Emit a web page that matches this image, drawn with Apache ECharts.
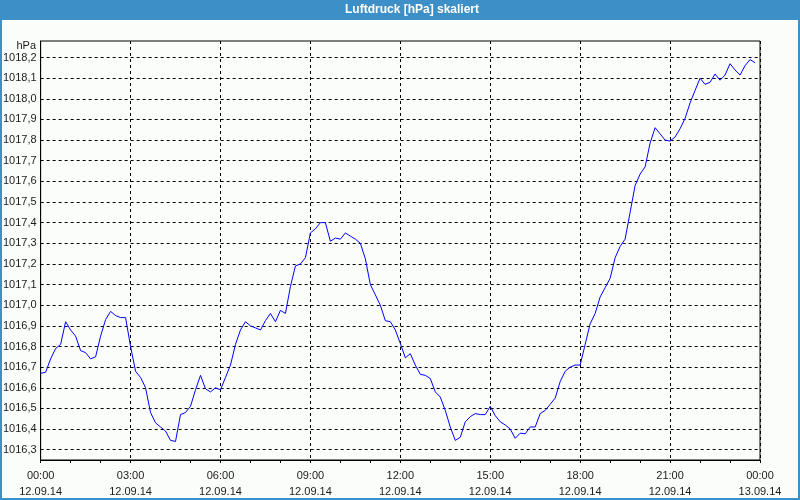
<!DOCTYPE html>
<html>
<head>
<meta charset="utf-8">
<script src="https://cdn.jsdelivr.net/npm/echarts@6/dist/echarts.min.js"></script>
<style>html,body{margin:0;padding:0;background:#fff}#c{width:800px;height:500px}</style>
</head>
<body>
<div id="c"></div>
<script>
// 10-minute samples from 12.09.14 00:00 to 23:50
const stepMinutes = 10;
const pressure = [
  1016.67, 1016.675, 1016.74, 1016.79, 1016.81, 1016.92, 1016.88, 1016.85, 1016.78, 1016.77,
  1016.74, 1016.75, 1016.85, 1016.93, 1016.97, 1016.95, 1016.94, 1016.94, 1016.80, 1016.68,
  1016.65, 1016.60, 1016.48, 1016.43, 1016.41, 1016.39, 1016.345, 1016.34, 1016.47, 1016.48,
  1016.51, 1016.59, 1016.66, 1016.595, 1016.58, 1016.60, 1016.59, 1016.65, 1016.71, 1016.81,
  1016.88, 1016.92, 1016.90, 1016.89, 1016.88, 1016.925, 1016.96, 1016.92, 1016.975, 1016.96,
  1017.09, 1017.19, 1017.20, 1017.23, 1017.35, 1017.37, 1017.40, 1017.40, 1017.31, 1017.325,
  1017.32, 1017.35, 1017.335, 1017.32, 1017.30, 1017.225, 1017.10, 1017.05, 1017.00, 1016.925,
  1016.92, 1016.88, 1016.815, 1016.745, 1016.765, 1016.71, 1016.665, 1016.66, 1016.645, 1016.58,
  1016.555, 1016.49, 1016.41, 1016.345, 1016.36, 1016.435, 1016.46, 1016.475, 1016.47, 1016.47,
  1016.51, 1016.465, 1016.435, 1016.42, 1016.40, 1016.355, 1016.38, 1016.377, 1016.41, 1016.41,
  1016.475, 1016.49, 1016.52, 1016.55, 1016.63, 1016.68, 1016.70, 1016.71, 1016.71, 1016.81,
  1016.91, 1016.96, 1017.04, 1017.085, 1017.13, 1017.23, 1017.285, 1017.32, 1017.45, 1017.58,
  1017.635, 1017.67, 1017.785, 1017.86, 1017.83, 1017.80, 1017.795, 1017.815, 1017.855, 1017.905,
  1017.98, 1018.04, 1018.10, 1018.07, 1018.08, 1018.12, 1018.09, 1018.115, 1018.17, 1018.14,
  1018.115, 1018.16, 1018.19, 1018.175
];
const xTickLabels = [
  '00:00\n12.09.14', '03:00\n12.09.14', '06:00\n12.09.14', '09:00\n12.09.14',
  '12:00\n12.09.14', '15:00\n12.09.14', '18:00\n12.09.14', '21:00\n12.09.14', '00:00\n13.09.14'
];
const yGridValues = [
  1016.3, 1016.4, 1016.5, 1016.6, 1016.7, 1016.8, 1016.9, 1017.0, 1017.1, 1017.2,
  1017.3, 1017.4, 1017.5, 1017.6, 1017.7, 1017.8, 1017.9, 1018.0, 1018.1, 1018.2
];
const titleText = 'Luftdruck [hPa] skaliert';
const unitText = 'hPa';

const FONT = 'Liberation Sans';
const chart = echarts.init(document.getElementById('c'), null, {renderer: 'canvas'});
const seriesData = pressure.map((v, i) => [i * stepMinutes, v]);

chart.setOption({
  animation: false,
  backgroundColor: '#fbfdfb',
  grid: {left: 40, right: 40, top: 41, bottom: 40, show: true, borderColor: '#000', borderWidth: 1, backgroundColor: 'transparent'},
  xAxis: {
    type: 'value', min: 0, max: 1440, interval: 180,
    axisLine: {show: true, lineStyle: {color: '#000', width: 1}},
    axisTick: {show: true, length: 3, lineStyle: {color: '#000'}},
    minorTick: {show: true, splitNumber: 3, length: 3, lineStyle: {color: '#000'}},
    splitLine: {show: true, lineStyle: {color: '#000', type: [3, 3], width: 1}},
    axisLabel: {
      margin: 8, color: '#1a1a1a', fontFamily: FONT, fontSize: 11, lineHeight: 16,
      formatter: v => xTickLabels[Math.round(v / 180)] || ''
    }
  },
  yAxis: {
    type: 'value', min: 1016.25, max: 1018.28, interval: 0.05,
    axisLine: {show: true, lineStyle: {color: '#000', width: 1}},
    axisTick: {show: false},
    splitLine: {show: false},
    axisLabel: {
      margin: 4, color: '#1a1a1a', fontFamily: FONT, fontSize: 11, showMinLabel: false, showMaxLabel: false,
      padding: [3, 0, 0, 0],
      formatter: v => {
        const t = v * 10;
        if (Math.abs(t - Math.round(t)) > 1e-6) return '';
        return (Math.round(t) / 10).toFixed(1).replace('.', ',');
      }
    }
  },
  series: [{
    type: 'line',
    data: seriesData,
    showSymbol: false,
    symbol: 'none',
    lineStyle: {color: '#0000ff', width: 1},
    itemStyle: {color: '#0000ff'},
    z: 5,
    markLine: {
      silent: true,
      symbol: ['none', 'none'],
      label: {show: false},
      lineStyle: {color: '#000', type: [3, 3], width: 1},
      emphasis: {disabled: true},
      data: yGridValues.map(v => ({yAxis: v}))
    }
  }],
  graphic: [
    {type: 'rect', z: 100, shape: {x: 0, y: 0, width: 800, height: 20}, style: {fill: '#3d90c7'}},
    {type: 'rect', z: 100, shape: {x: 1, y: 1, width: 798, height: 498}, style: {fill: 'none', stroke: '#3d90c7', lineWidth: 2}},
    {type: 'text', z: 101, style: {x: 345, y: 10, text: titleText, fill: '#fff', font: 'bold 12px "Liberation Sans"', textVerticalAlign: 'middle', textAlign: 'left'}},
    {type: 'text', z: 101, style: {x: 36, y: 46, text: unitText, fill: '#1a1a1a', font: '11px "Liberation Sans"', textVerticalAlign: 'middle', textAlign: 'right'}}
  ]
});
</script>
</body>
</html>
